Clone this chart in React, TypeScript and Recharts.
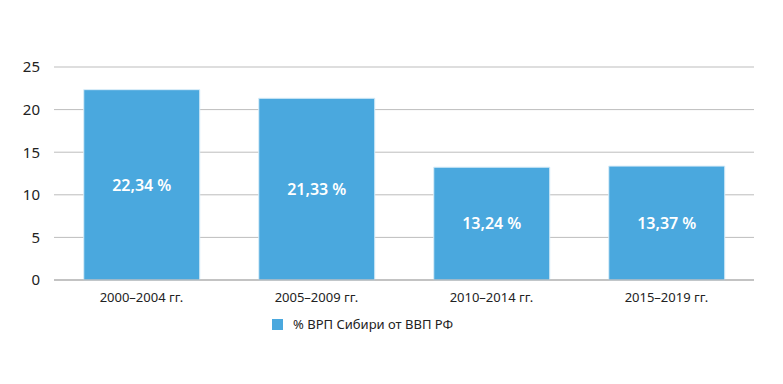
import { BarChart, Bar, XAxis, YAxis, CartesianGrid, Legend, LabelList } from "recharts";

const periods = ["2000–2004 гг.", "2005–2009 гг.", "2010–2014 гг.", "2015–2019 гг."];
const shares = [22.34, 21.33, 13.24, 13.37];
const yTicks = [0, 5, 10, 15, 20, 25];
const seriesName = "% ВРП Сибири от ВВП РФ";

const data = periods.map((period, i) => ({ period, value: shares[i] }));

const FONT = "'Noto Sans', 'Open Sans', sans-serif";
const BLUE = "#4aa8de";

export default function App() {
  return (
    <div style={{ position: "fixed", left: 0, top: 0, width: 783, height: 384, background: "#fff", fontFamily: FONT }}>
      <BarChart
        width={783}
        height={384}
        data={data}
        margin={{ top: 45, right: 29, left: 0, bottom: 74 }}
        barCategoryGap="17%"
      >
        <CartesianGrid vertical={false} stroke="#bdbdbd" />
        <XAxis
          dataKey="period"
          axisLine={{ stroke: "#a8a8a8" }}
          tickLine={false}
          tickMargin={7}
          tick={{ fill: "#222", fontSize: 13, fontFamily: FONT }}
        />
        <YAxis
          domain={[0, 25]}
          ticks={yTicks}
          axisLine={false}
          tickLine={false}
          width={54}
          tickMargin={8}
          tick={{ fill: "#222", fontSize: 15, fontFamily: FONT }}
        />
        <Legend
          verticalAlign="top"
          align="left"
          iconType="square"
          iconSize={11}
          wrapperStyle={{ top: 312, left: 272, width: "auto" }}
          formatter={(value) => (
            <span style={{ color: "#222", fontSize: 13, marginLeft: 6, fontFamily: FONT }}>{value}</span>
          )}
        />
        <Bar dataKey="value" name={seriesName} fill={BLUE} stroke="#d8ecf8" strokeWidth={1} isAnimationActive={false}>
          <LabelList
            dataKey="value"
            position="center"
            formatter={(v: any) => `${Number(v).toFixed(2).replace(".", ",")} %`}
            style={{ fill: "#fff", fontSize: 16, fontWeight: 600, fontFamily: FONT }}
          />
        </Bar>
      </BarChart>
    </div>
  );
}
